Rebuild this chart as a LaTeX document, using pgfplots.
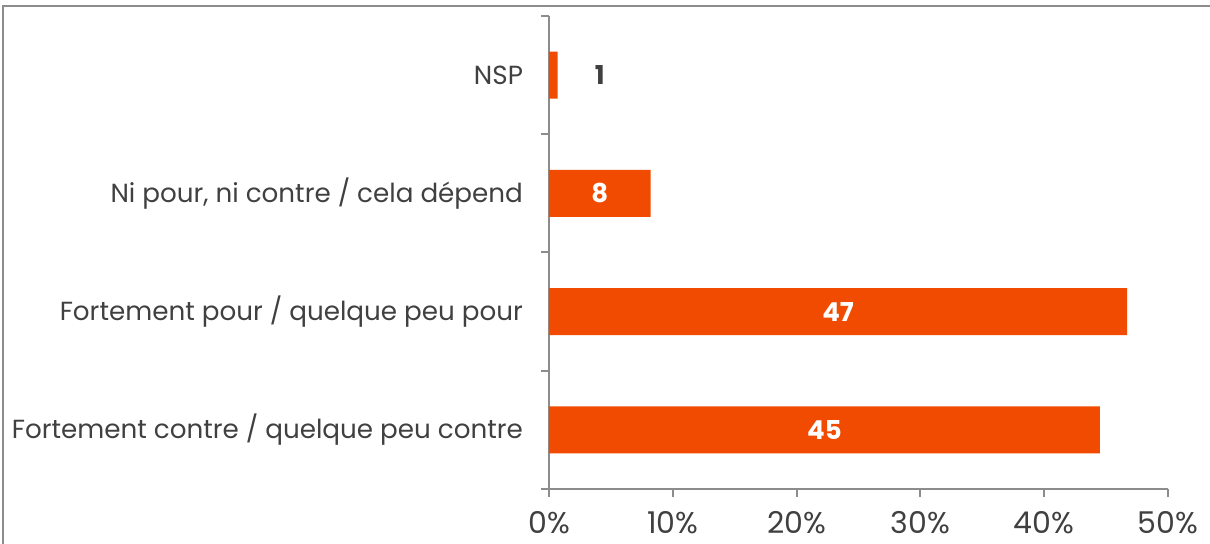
\documentclass[border=0pt]{standalone}
\usepackage{fontspec}
\setmainfont{Poppins}
\usepackage{pgfplots}
\pgfplotsset{compat=1.18}
\definecolor{barorange}{RGB}{240,75,0}
\definecolor{axgray}{RGB}{140,140,140}
\definecolor{txt}{RGB}{64,64,64}
\begin{document}
\fontsize{13}{15}\selectfont
\begin{tikzpicture}
\useasboundingbox (0,0) rectangle (605pt,272pt);
\draw[axgray, line width=1pt] (1.5pt,0) -- (1.5pt,269pt) -- (605pt,269pt);
\begin{axis}[
  at={(274.5pt,27.5pt)}, anchor=south west,
  width=309.5pt, height=236.5pt, scale only axis,
  xmin=0, xmax=50, ymin=-0.5, ymax=3.5,
  xbar, bar width=23.5pt,
  axis x line*=bottom, axis y line*=left,
  axis line style={axgray, line width=1pt},
  tick align=outside, major tick length=4pt,
  tick style={axgray, line width=1pt},
  xtick={0,10,20,30,40,50},
  xticklabels={0\%,10\%,20\%,30\%,40\%,50\%},
  xticklabel style={font=\fontsize{15}{17}\selectfont, text=txt, inner sep=0pt, yshift=-7pt},
  ytick={-0.5,0.5,1.5,2.5,3.5},
  yticklabels={},
  extra y ticks={0,1,2,3},
  extra y tick labels={Fortement contre / quelque peu contre, Fortement pour / quelque peu pour, {Ni pour, ni contre / cela dépend}, NSP},
  extra y tick style={tick style={draw=none}},
  yticklabel style={font=\fontsize{13.1}{15}\selectfont, text=txt, xshift=-4.5pt},
  clip=false,
]
\addplot[fill=barorange, draw=none] coordinates {(44.5,0) (46.7,1) (8.2,2) (0.7,3)};
\node[font=\bfseries\fontsize{13}{15}\selectfont, text=white] at (axis cs:22.25,0) {45};
\node[font=\bfseries\fontsize{13}{15}\selectfont, text=white] at (axis cs:23.35,1) {47};
\node[font=\bfseries\fontsize{13}{15}\selectfont, text=white] at (axis cs:4.1,2) {8};
\node[font=\bfseries\fontsize{13}{15}\selectfont, text=txt] at (axis cs:4.1,3) {1};
\end{axis}
\end{tikzpicture}
\end{document}
